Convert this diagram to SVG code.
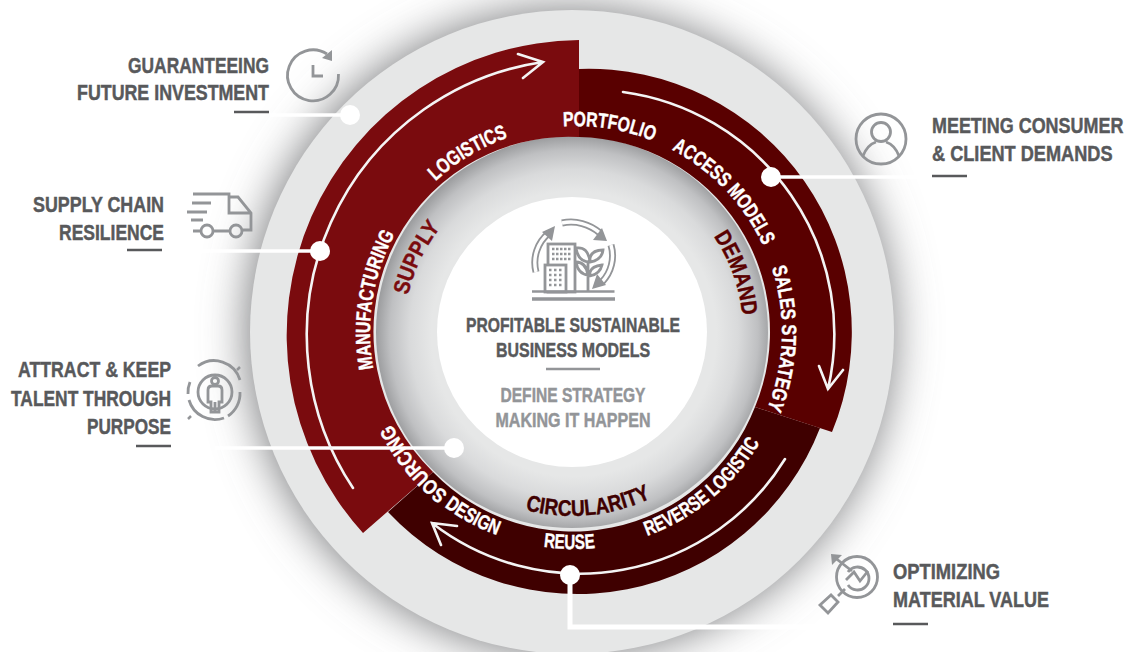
<svg xmlns="http://www.w3.org/2000/svg" width="1130" height="652" viewBox="0 0 1130 652">
<defs>
<style>
text{font-family:"Liberation Sans",Arial,sans-serif;font-weight:700}
.lab{font-size:22px;fill:#58595b;stroke:#58595b;stroke-width:.45px}
.end{text-anchor:end}
.r{font-size:20.5px;fill:#fff;stroke:#fff;stroke-width:.4px;text-anchor:middle}
.h{font-size:22.5px;text-anchor:middle;stroke-width:.4px}
.c{font-size:20px;text-anchor:middle;stroke-width:.45px}
.rule{stroke:#58595b;stroke-width:2.6;fill:none}
.ic{fill:none;stroke:#939598;stroke-width:2.8}
.icf{fill:#939598;stroke:none}
.wl{fill:none;stroke:#fff;stroke-linecap:butt}
.ar{fill:none;stroke:#f4f4f4;stroke-width:2.6;stroke-linecap:round;stroke-linejoin:miter}
.dot{fill:#fff}
</style>
<filter id="blur" x="-30%" y="-30%" width="160%" height="160%"><feGaussianBlur stdDeviation="23"/></filter>
<radialGradient id="well" cx="0.505" cy="0.505" r="0.505">
<stop offset="0" stop-color="#e6e7e7"/><stop offset="0.72" stop-color="#e6e7e7"/><stop offset="0.83" stop-color="#d9dadb"/><stop offset="0.93" stop-color="#bfc0c2"/><stop offset="1" stop-color="#9c9d9f"/>
</radialGradient>
<path id="cw" d="M576,538 A206,206 0 0 1 576,126 A206,206 0 0 1 576,538"/>
<path id="ccw" d="M356,332 A217,217 0 0 0 790,332"/>
<path id="supplyArc" d="M404,332 A168,168 0 0 1 740,332"/>
<path id="demandArc" d="M401,332 A171,171 0 0 1 743,332"/>
<path id="circArc" d="M388,332 A184,184 0 0 0 756,332"/>
</defs>

<g id="backdrop">
<rect width="1130" height="652" fill="#fff"/>
<circle cx="570" cy="332" r="322" fill="#767779" filter="url(#blur)"/>
<circle cx="572" cy="332" r="322" fill="#e6e7e7"/>
<circle cx="572" cy="332" r="196" fill="url(#well)"/>
<circle cx="572" cy="332" r="135" fill="#fff"/>
</g>

<g id="ring-circularity"><path d="M820,428 A260,260 0 0 1 388,512 L433,472 A195,195 0 0 0 755,407 Z" fill="#3f0000"/></g>
<g id="ring-demand"><path d="M579,69 A263,263 0 0 1 832,432 L755,407 A195,195 0 0 0 579,137 Z" fill="#590000"/></g>
<g id="ring-supply"><path d="M363,533 A295,295 0 0 1 579,40 L579,137 A195,195 0 0 0 433,472 Z" fill="#7a0b0e"/></g>

<g id="ring-labels">
<text class="r"><textPath href="#cw" startOffset="183" textLength="90" lengthAdjust="spacingAndGlyphs">SOURCING</textPath></text>
<text class="r"><textPath href="#cw" startOffset="356" textLength="139" lengthAdjust="spacingAndGlyphs">MANUFACTURING</textPath></text>
<text class="r"><textPath href="#cw" startOffset="535" textLength="85" lengthAdjust="spacingAndGlyphs">LOGISTICS</textPath></text>
<text class="r"><textPath href="#cw" startOffset="680" textLength="92" lengthAdjust="spacingAndGlyphs">PORTFOLIO</textPath></text>
<text class="r"><textPath href="#cw" startOffset="814" textLength="135" lengthAdjust="spacingAndGlyphs">ACCESS MODELS</textPath></text>
<text class="r"><textPath href="#cw" startOffset="977" textLength="144" lengthAdjust="spacingAndGlyphs">SALES STRATEGY</textPath></text>
<text class="r"><textPath href="#ccw" startOffset="233" textLength="60" lengthAdjust="spacingAndGlyphs">DESIGN</textPath></text>
<text class="r"><textPath href="#ccw" startOffset="337" textLength="52" lengthAdjust="spacingAndGlyphs">REUSE</textPath></text>
<text class="r"><textPath href="#ccw" startOffset="491" textLength="149" lengthAdjust="spacingAndGlyphs">REVERSE LOGISTIC</textPath></text>
<text class="h" fill="#7a0b0e" stroke="#7a0b0e"><textPath href="#supplyArc" startOffset="75" textLength="76" lengthAdjust="spacingAndGlyphs">SUPPLY</textPath></text>
<text class="h" fill="#590000" stroke="#590000"><textPath href="#demandArc" startOffset="478" textLength="85" lengthAdjust="spacingAndGlyphs">DEMAND</textPath></text>
<text class="h" fill="#3f0000" stroke="#3f0000"><textPath href="#circArc" startOffset="306" textLength="129" lengthAdjust="spacingAndGlyphs">CIRCULARITY</textPath></text>
</g>

<g id="connectors">
<path class="wl" stroke-width="3.5" d="M270,115H350"/>
<path class="wl" stroke-width="3.5" d="M200,251H320"/>
<path class="wl" stroke-width="3.5" d="M215,448H454"/>
<path class="wl" stroke-width="3.5" d="M771,177H916"/>
<path class="wl" stroke-width="5" d="M570,575V627H822"/>
<path class="ar" d="M353,488 A276,276 0 0 1 543,62 M518,54 L543,62 L523,78"/>
<path class="ar" d="M623,92 A244,244 0 0 1 828,389 M819,366 L828,389 L843,370"/>
<path class="ar" d="M785,459 A241,241 0 0 1 432,523 M457,526 L432,523 L441,545"/>
</g>

<g id="dot-investment"><circle class="dot" cx="350" cy="115" r="10"/></g>
<g id="dot-resilience"><circle class="dot" cx="320" cy="251" r="10"/></g>
<g id="dot-talent"><circle class="dot" cx="454" cy="448" r="10"/></g>
<g id="dot-demand"><circle class="dot" cx="771" cy="177" r="10"/></g>
<g id="dot-material"><circle class="dot" cx="570" cy="575" r="10"/></g>

<g id="center">
<g id="center-icon">
<path d="M536,272 A38,38 0 0 1 549,233" fill="none" stroke="#939598" stroke-width="7"/>
<path d="M536,272 A38,38 0 0 1 549,233" fill="none" stroke="#fff" stroke-width="3.4"/>
<polygon class="icf" points="555,226 552,241 542,232"/>
<path d="M562,223 A44,44 0 0 1 600,233" fill="none" stroke="#939598" stroke-width="7"/>
<path d="M562,223 A44,44 0 0 1 600,233" fill="none" stroke="#fff" stroke-width="3.4"/>
<polygon class="icf" points="607,241 593,240 602,228"/>
<path d="M611,245 A38,38 0 0 1 602,282" fill="none" stroke="#939598" stroke-width="7"/>
<path d="M611,245 A38,38 0 0 1 602,282" fill="none" stroke="#fff" stroke-width="3.4"/>
<polygon class="icf" points="592,289 597,274 606,285"/>
<rect class="ic" x="548" y="244" width="27" height="48" style="fill:#fff"/>
<rect class="ic" x="545" y="265" width="21" height="27" style="fill:#fff"/>
<path d="M552,249h2.5M556,249h2.5M560,249h2.5M564,249h2.5M568,249h2.5M552,254h2.5M556,254h2.5M560,254h2.5M564,254h2.5M568,254h2.5M552,259h2.5M556,259h2.5M560,259h2.5M564,259h2.5M568,259h2.5M549,270h2.5M554,270h2.5M559,270h2.5M549,275h2.5M554,275h2.5M559,275h2.5M549,280h2.5M554,280h2.5M559,280h2.5M549,285h2.5M554,285h2.5M559,285h2.5" stroke="#939598" stroke-width="2.5" fill="none"/>
<path class="ic" d="M588,292V262 M576,248 Q588,246 590,262 Q578,262 576,248Z M576,262 Q586,262 588,275 Q578,274 576,262Z M590,258 Q592,250 603,250 Q602,260 590,262Z M590,272 Q592,266 602,265 Q600,274 590,276Z"/>
<path d="M532,291.500H614.500" stroke="#939598" stroke-width="2.500"/>
<path d="M532,299H615" stroke="#939598" stroke-width="3.500"/>
</g>
<text class="c" x="573" y="332" fill="#58595b" stroke="#58595b" textLength="214" lengthAdjust="spacingAndGlyphs">PROFITABLE SUSTAINABLE</text>
<text class="c" x="573" y="357" fill="#58595b" stroke="#58595b" textLength="154" lengthAdjust="spacingAndGlyphs">BUSINESS MODELS</text>
<path d="M546,369H600" stroke="#939598" stroke-width="2.600"/>
<text class="c" x="573" y="402" fill="#939598" stroke="#939598" textLength="145" lengthAdjust="spacingAndGlyphs">DEFINE STRATEGY</text>
<text class="c" x="573" y="427" fill="#939598" stroke="#939598" textLength="155" lengthAdjust="spacingAndGlyphs">MAKING IT HAPPEN</text>
</g>

<g id="node-investment">
<text class="lab end" x="269" y="73" textLength="141" lengthAdjust="spacingAndGlyphs">GUARANTEEING</text>
<text class="lab end" x="269" y="100" textLength="192" lengthAdjust="spacingAndGlyphs">FUTURE INVESTMENT</text>
<path class="rule" d="M234,112H269"/>
<path class="ic" d="M327,54 A25.500,25.500 0 1 0 338.500,74 M313,65V76H323"/>
<polygon class="icf" points="332,50 332,61 322,58"/>
</g>

<g id="node-resilience">
<text class="lab end" x="164" y="212" textLength="131" lengthAdjust="spacingAndGlyphs">SUPPLY CHAIN</text>
<text class="lab end" x="164" y="240" textLength="105" lengthAdjust="spacingAndGlyphs">RESILIENCE</text>
<path class="rule" d="M127,250H162"/>
<path class="ic" d="M193,194H229V213H250 M229,197H238L251,213V230H243 M192,203H211 M187,212H207 M191,220H203 M193,231H201 M213,231H230"/>
<circle class="ic" cx="207" cy="231" r="6"/>
<circle class="ic" cx="236" cy="231" r="6"/>
</g>

<g id="node-talent">
<text class="lab end" x="171" y="377" textLength="153" lengthAdjust="spacingAndGlyphs">ATTRACT &amp; KEEP</text>
<text class="lab end" x="171" y="406" textLength="160" lengthAdjust="spacingAndGlyphs">TALENT THROUGH</text>
<text class="lab end" x="171" y="434" textLength="84" lengthAdjust="spacingAndGlyphs">PURPOSE</text>
<path class="rule" d="M136,446H171"/>
<path class="ic" stroke-width="2.200" d="M198,366 A27,27 0 0 1 240,380 M240,392 A27,27 0 0 1 228,416 M224,418 A27,27 0 0 1 189,400 M188,394 A27,27 0 0 1 190,382"/>
<circle class="ic" cx="215" cy="392" r="17"/>
<path class="ic" stroke-width="1.800" d="M211,412V402H208V390Q208,386 212,386H218Q222,386 222,390V402H219V412Z M215,402V412"/>
<circle class="ic" stroke-width="1.800" cx="215" cy="381" r="3.500"/>
<path d="M237,370l3,-3M188,419l3,-3" stroke="#939598" stroke-width="2.500"/>
</g>

<g id="node-demand">
<text class="lab" transform="translate(932,133) scale(.816,1)">MEETING CONSUMER</text>
<text class="lab" transform="translate(932,161) scale(.826,1)">&amp; CLIENT DEMANDS</text>
<path class="rule" d="M932,176H967"/>
<circle class="ic" cx="881" cy="139" r="25"/>
<circle class="ic" cx="881" cy="132" r="9.500"/>
<path class="ic" d="M863,156 C866,148 870,144 876,142 M899,156 C896,148 892,144 886,142"/>
</g>

<g id="node-material">
<text class="lab" x="893" y="579" textLength="107" lengthAdjust="spacingAndGlyphs">OPTIMIZING</text>
<text class="lab" x="893" y="607" textLength="156" lengthAdjust="spacingAndGlyphs">MATERIAL VALUE</text>
<path class="rule" d="M893,624H928"/>
<circle class="ic" cx="857" cy="577" r="20.500" stroke-width="3"/>
<path class="ic" stroke-width="3.500" d="M848,572 A11.500,11.500 0 1 1 848,585"/>
<path class="ic" d="M846,580 L854,572 L860,581 L868,571 M852,571 L834,557 M838,596 L845,589"/>
<polygon class="icf" points="831,554 842,555 832,565"/>
<path class="ic" stroke-width="3" d="M820,605 L831,595 L838,602 L828,613 Z"/>
</g>
</svg>
